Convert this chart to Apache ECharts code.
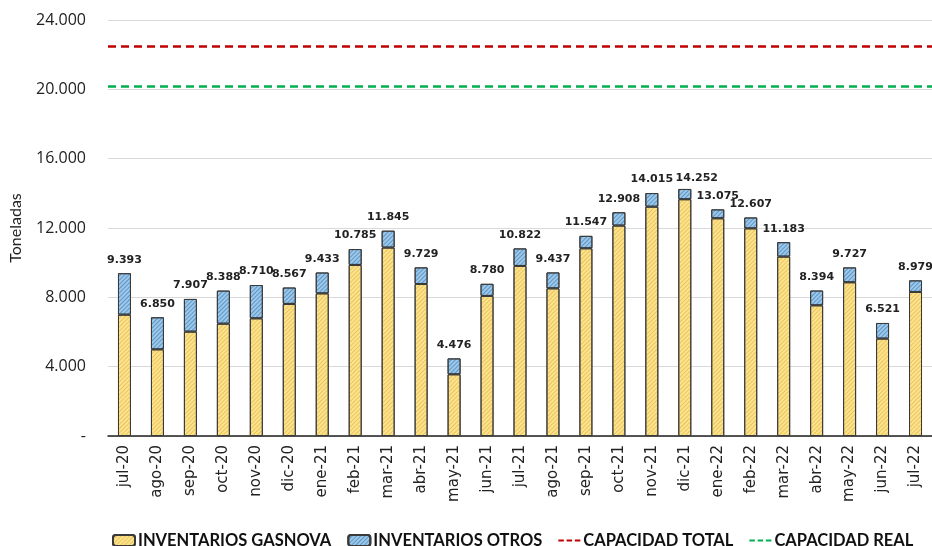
<!DOCTYPE html>
<html>
<head>
<meta charset="utf-8">
<script src="https://cdn.jsdelivr.net/npm/echarts@6/dist/echarts.min.js"></script>
<style>
  html, body { margin: 0; padding: 0; background: #fff; }
  #chart { width: 932px; height: 546px; }
</style>
</head>
<body>
<div id="chart"></div>
<script>
var meses = ['jul-20', 'ago-20', 'sep-20', 'oct-20', 'nov-20', 'dic-20', 'ene-21', 'feb-21', 'mar-21',
    'abr-21', 'may-21', 'jun-21', 'jul-21', 'ago-21', 'sep-21', 'oct-21', 'nov-21', 'dic-21',
    'ene-22', 'feb-22', 'mar-22', 'abr-22', 'may-22', 'jun-22', 'jul-22'];
var gasnova = [7000, 5000, 6020, 6480, 6790, 7620, 8230, 9870, 10870, 8770, 3560, 8080, 9810,
    8520, 10830, 12140, 13230, 13660, 12560, 11980, 10350, 7540, 8870, 5620, 8310];
var otros = [2393, 1850, 1887, 1908, 1920, 947, 1203, 915, 975, 959, 916, 700, 1012,
    917, 717, 768, 785, 592, 515, 627, 833, 854, 857, 901, 669];
var totales = [9393, 6850, 7907, 8388, 8710, 8567, 9433, 10785, 11845, 9729, 4476, 8780, 10822,
    9437, 11547, 12908, 14015, 14252, 13075, 12607, 11183, 8394, 9727, 6521, 8979];
var capacidadTotal = 22500;
var capacidadReal = 20200;

function miles(v) {
    if (v === 0) return '-';
    return String(v).replace(/\B(?=(\d{3})+(?!\d))/g, '.');
}

var dashIcon = 'path://M0,0h6v2h-6z M9,0h6v2h-6z M18,0h6v2h-6z';

window.onload = function () {
    var chart = echarts.init(document.getElementById('chart'));

    // la etiqueta de dic-21 va un poco corrida a la derecha para no pisar la de nov-21
    var otrosData = otros.map(function (v, i) {
        if (meses[i] === 'dic-21') return { value: v, label: { offset: [12, 3] } };
        return v;
    });

    var option = {
        animation: false,
        backgroundColor: '#fff',
        textStyle: { fontFamily: 'Lato' },
        grid: { left: 107, right: 0, top: 20, bottom: 110 },
        legend: {
            left: 107,
            top: 527,
            width: 825,
            itemWidth: 22,
            itemHeight: 11,
            itemGap: 16,
            textStyle: {
                fontSize: 16.5, fontWeight: 'bold', color: '#111',
                fontFamily: 'Lato', padding: [0, 0, 0, -2]
            },
            data: [
                { name: 'INVENTARIOS GASNOVA' },
                { name: 'INVENTARIOS OTROS' },
                { name: 'CAPACIDAD TOTAL', icon: dashIcon, itemStyle: { color: '#C00000' } },
                { name: 'CAPACIDAD REAL', icon: dashIcon, itemStyle: { color: '#00B050' } }
            ]
        },
        xAxis: {
            type: 'category',
            data: meses,
            axisLine: { lineStyle: { color: '#222', width: 1.5 } },
            axisTick: { show: false },
            axisLabel: { rotate: 90, margin: 9, fontSize: 15, color: '#222', fontFamily: 'DejaVu Sans' }
        },
        yAxis: {
            type: 'value',
            min: 0,
            max: 24000,
            interval: 4000,
            name: 'Toneladas',
            nameLocation: 'middle',
            nameRotate: 90,
            nameGap: 84,
            nameTextStyle: { fontSize: 16, color: '#222', fontFamily: 'Lato' },
            axisLine: { show: false },
            axisTick: { show: false },
            splitLine: { lineStyle: { color: '#d9d9d9', width: 1 } },
            axisLabel: { margin: 22, fontSize: 16, color: '#222', fontFamily: 'Open Sans', formatter: miles }
        },
        series: [
            {
                name: 'INVENTARIOS GASNOVA',
                type: 'bar',
                stack: 'inv',
                barWidth: 13,
                data: gasnova,
                itemStyle: {
                    color: '#FFE38A',
                    borderColor: '#3a3a3a',
                    borderWidth: 1,
                    decal: {
                        symbol: 'rect', symbolSize: 1, rotation: -Math.PI / 4,
                        dashArrayX: [1, 0], dashArrayY: [1, 2],
                        color: 'rgba(200,160,50,0.45)'
                    }
                }
            },
            {
                name: 'INVENTARIOS OTROS',
                type: 'bar',
                stack: 'inv',
                barWidth: 13,
                data: otrosData,
                itemStyle: {
                    color: '#9DC8EA',
                    borderColor: '#3a3a3a',
                    borderWidth: 1,
                    decal: {
                        symbol: 'rect', symbolSize: 1, rotation: -Math.PI / 4,
                        dashArrayX: [1, 0], dashArrayY: [1, 2],
                        color: 'rgba(40,110,170,0.55)'
                    }
                },
                label: {
                    show: true,
                    position: 'top',
                    distance: 8,
                    fontSize: 11,
                    fontWeight: 'bold',
                    color: '#222',
                    fontFamily: 'DejaVu Sans',
                    formatter: function (p) { return miles(totales[p.dataIndex]); }
                }
            },
            {
                name: 'CAPACIDAD TOTAL',
                type: 'line',
                data: [],
                itemStyle: { color: '#C00000' },
                markLine: {
                    silent: true,
                    symbol: 'none',
                    label: { show: false },
                    lineStyle: { color: '#C00000', type: [8, 5], width: 2.5 },
                    data: [{ yAxis: capacidadTotal }]
                }
            },
            {
                name: 'CAPACIDAD REAL',
                type: 'line',
                data: [],
                itemStyle: { color: '#00B050' },
                markLine: {
                    silent: true,
                    symbol: 'none',
                    label: { show: false },
                    lineStyle: { color: '#00B050', type: [8, 5], width: 2.5 },
                    data: [{ yAxis: capacidadReal }]
                }
            }
        ]
    };

    chart.setOption(option);
};
</script>
</body>
</html>
